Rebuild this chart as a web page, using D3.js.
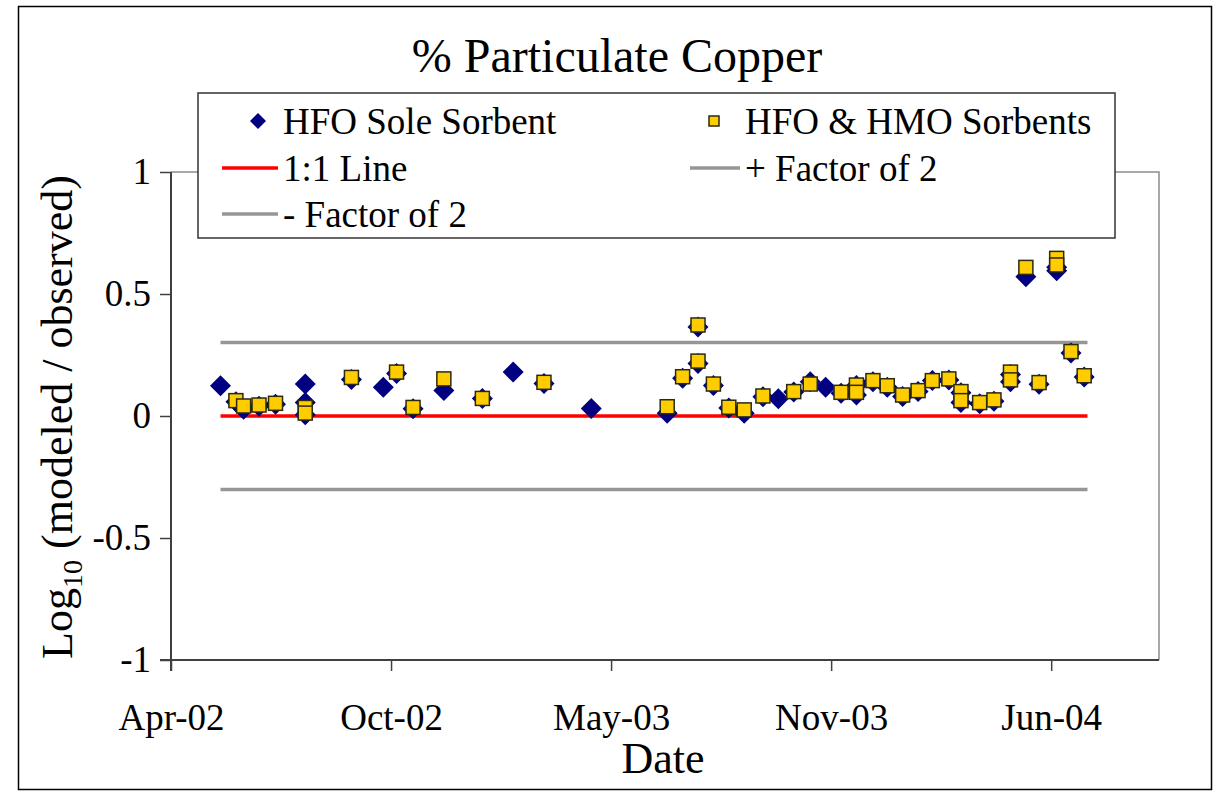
<!DOCTYPE html>
<html><head><meta charset="utf-8">
<script src="https://cdn.jsdelivr.net/npm/d3@7"></script>
<style>
html,body{margin:0;padding:0;background:#fff;}
svg{display:block;}
</style></head>
<body>
<svg id="chart" width="1220" height="797"></svg>
<script>
// ---- data ----
const sampleDates = [
"2002-05-16","2002-05-30","2002-06-06","2002-06-20","2002-07-05",
"2002-08-01","2002-08-01","2002-08-01","2002-09-12","2002-10-11",
"2002-10-23","2002-11-07","2002-12-05","2003-01-09","2003-02-06",
"2003-03-06","2003-04-18","2003-06-26","2003-07-10","2003-07-24",
"2003-07-24","2003-08-07","2003-08-21","2003-09-04","2003-09-21",
"2003-10-05","2003-10-19","2003-11-03","2003-11-17","2003-12-01",
"2003-12-15","2003-12-15","2003-12-30","2004-01-12","2004-01-26",
"2004-02-09","2004-02-22","2004-03-08","2004-03-19","2004-03-19",
"2004-04-05","2004-04-18","2004-05-03","2004-05-03","2004-05-17",
"2004-05-29","2004-06-14","2004-06-14","2004-06-27","2004-07-09"];
const hfoSole = [
0.124,0.058,0.028,0.040,0.048,
0.131,0.055,0.005,0.150,0.118,
0.174,0.030,0.104,0.072,0.180,
0.133,0.031,0.011,0.155,0.365,
0.215,0.125,0.033,0.011,0.079,
0.071,0.098,0.140,0.118,0.093,
0.125,0.086,0.140,0.118,0.080,
0.100,0.145,0.148,0.095,0.055,
0.050,0.060,0.170,0.140,0.571,
0.130,0.595,0.610,0.258,0.160];
const hfoHmo = [
null,0.063,0.041,0.045,0.052,
null,0.035,0.012,0.158,null,
0.180,0.035,0.152,0.072,null,
0.138,null,0.038,0.161,0.373,
0.225,0.131,0.036,0.025,0.082,
null,0.100,0.131,null,0.097,
0.127,0.097,0.145,0.124,0.086,
0.104,0.145,0.152,0.100,0.063,
0.055,0.066,0.180,0.148,0.609,
0.137,0.646,0.619,0.264,0.165];
const refLineDates = ["2002-05-16","2004-07-12"];
const oneToOne = [0, 0];
const plusFactor2 = [0.301, 0.301];
const minusFactor2 = [-0.301, -0.301];
const xTickDates = ["2002-04-01","2002-10-18","2003-05-06","2003-11-22","2004-06-09"];
const xDomain = ["2002-04-01","2004-09-15"];
const yTicks = [-1,-0.5,0,0.5,1];
const yDomain = [-1, 1];
const legendLabels = ["HFO Sole Sorbent","HFO & HMO Sorbents","1:1 Line","+ Factor of 2","- Factor of 2"];

// ---- layout ----
const FONT = '"Liberation Serif","Times New Roman","DejaVu Serif",serif';
const parse = d3.timeParse("%Y-%m-%d");
const svg = d3.select("#chart");
const L = 171, R = 1159, T = 172, B = 660;
const x = d3.scaleTime().domain(xDomain.map(parse)).range([L, R]);
const y = d3.scaleLinear().domain(yDomain).range([B, T]);

// outer frame
svg.append("rect").attr("x",18.5).attr("y",6.5).attr("width",1193).attr("height",783)
  .attr("fill","none").attr("stroke","#000").attr("stroke-width",1.5);

// plot area border (top/right)
svg.append("path").attr("d",`M${L},${T}H${R}V${B}`).attr("fill","none")
  .attr("stroke","#8c8c8c").attr("stroke-width",1.5);

// reference lines
const line = d3.line().x(d=>x(d[0])).y(d=>y(d[1]));
const refDates = refLineDates.map(parse);
function refLine(vals,color){
  svg.append("path").datum(refDates.map((d,i)=>[d,vals[i]])).attr("d",line)
    .attr("fill","none").attr("stroke",color).attr("stroke-width",3.5);
}
refLine(plusFactor2,"#969696");
refLine(minusFactor2,"#969696");
refLine(oneToOne,"#ff0000");

// axes
const yAxis = d3.axisLeft(y).tickValues(yTicks).tickSize(11).tickPadding(9)
  .tickFormat(d=>String(d));
const gy = svg.append("g").attr("transform",`translate(${L},0)`).call(yAxis);
const xAxis = d3.axisBottom(x).tickValues(xTickDates.map(parse)).tickSize(11).tickPadding(33)
  .tickFormat(d3.timeFormat("%b-%y"));
const gx = svg.append("g").attr("transform",`translate(0,${B})`).call(xAxis);
[gx,gy].forEach(g=>{
  g.attr("font-family",FONT).attr("font-size",37);
  g.select(".domain").attr("stroke","#404040").attr("stroke-width",2);
  g.selectAll(".tick line").attr("stroke","#404040").attr("stroke-width",1.5);
  g.selectAll("text").style("font-family",FONT).style("font-size","37px").attr("fill","#000");
});
gy.select(".domain").attr("d",`M0,${B+11}V${T}`);
gx.select(".domain").attr("d",`M${L-11},0H${R}`);

// points
const pts = sampleDates.map((d,i)=>({date:parse(d),a:hfoSole[i],b:hfoHmo[i]}));
const diamond = s => `M0,${-s}L${s},0L0,${s}L${-s},0Z`;
svg.append("g").selectAll("path").data(pts.filter(p=>p.a!=null)).join("path")
  .attr("transform",p=>`translate(${x(p.date)},${y(p.a)})`)
  .attr("d",diamond(10.5)).attr("fill","#000080");
svg.append("g").selectAll("rect").data(pts.filter(p=>p.b!=null)).join("rect")
  .attr("x",p=>x(p.date)-7).attr("y",p=>y(p.b)-7).attr("width",14).attr("height",14)
  .attr("fill","#ffcc00").attr("stroke","#2a2a10").attr("stroke-width",1.5);

function txt(sel){ return sel.style("font-family",FONT).attr("fill","#000"); }

// title
txt(svg.append("text")).attr("x",617).attr("y",72).attr("text-anchor","middle")
  .style("font-size","48px").text("% Particulate Copper");

// axis titles
txt(svg.append("text")).attr("x",663).attr("y",773).attr("text-anchor","middle")
  .style("font-size","44px").text("Date");
const yt = txt(svg.append("text")).attr("transform","translate(72,417) rotate(-90)")
  .attr("text-anchor","middle").style("font-size","44px");
yt.append("tspan").text("Log");
yt.append("tspan").attr("dy",10).style("font-size","28px").text("10");
yt.append("tspan").attr("dy",-10).text(" (modeled / observed)");

// legend
const lg = svg.append("g");
lg.append("rect").attr("x",198).attr("y",93).attr("width",917).attr("height",145)
  .attr("fill","#fff").attr("stroke","#333").attr("stroke-width",1.5);
const rows = [121,168,214];
const col1 = 283, col2 = 745;
lg.append("path").attr("transform",`translate(258,${rows[0]})`).attr("d",diamond(8)).attr("fill","#000080");
lg.append("rect").attr("x",709).attr("y",rows[0]-5).attr("width",10).attr("height",10)
  .attr("fill","#ffcc00").attr("stroke","#2a2a10").attr("stroke-width",1.5);
lg.append("line").attr("x1",222).attr("x2",278).attr("y1",rows[1]).attr("y2",rows[1]).attr("stroke","#ff0000").attr("stroke-width",3.5);
lg.append("line").attr("x1",690).attr("x2",740).attr("y1",rows[1]).attr("y2",rows[1]).attr("stroke","#969696").attr("stroke-width",3.5);
lg.append("line").attr("x1",222).attr("x2",278).attr("y1",rows[2]).attr("y2",rows[2]).attr("stroke","#969696").attr("stroke-width",3.5);
const lpos = [[col1,rows[0]],[col2,rows[0]],[col1,rows[1]],[col2,rows[1]],[col1,rows[2]]];
legendLabels.forEach((t,i)=>{
  txt(lg.append("text")).attr("x",lpos[i][0]).attr("y",lpos[i][1]).attr("dy","0.35em")
    .style("font-size","37px").text(t);
});
</script>
</body></html>
